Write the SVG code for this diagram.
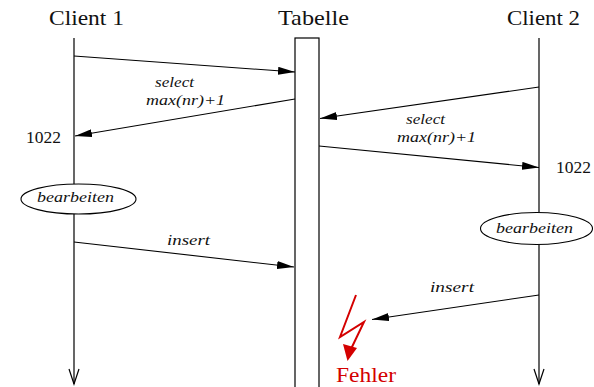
<svg xmlns="http://www.w3.org/2000/svg" width="594" height="387" viewBox="0 0 594 387">
<style>
.t{font-family:"Liberation Serif","DejaVu Serif","Times New Roman",serif;font-size:21px;fill:#111}
.l{font-family:"Liberation Serif","DejaVu Serif","Times New Roman",serif;font-style:italic;font-size:15.5px;fill:#111}
.n{font-family:"Liberation Serif","DejaVu Serif","Times New Roman",serif;font-size:16px;fill:#111}
.ln{stroke:#000;stroke-width:1.2;fill:none}
.msg{stroke:#000;stroke-width:1.1;fill:none;marker-end:url(#ah)}
.red{fill:#d40000}
</style>
<defs>
<marker id="ah" markerWidth="17" markerHeight="8" refX="17" refY="4" orient="auto" markerUnits="userSpaceOnUse">
<path d="M0,0 L17,4 L0,8 Z" fill="#000"/>
</marker>
</defs>
<g id="client1">
<text class="t" x="49" y="25" textLength="75" lengthAdjust="spacingAndGlyphs">Client 1</text>
<line class="ln" x1="74" y1="38" x2="74" y2="184"/>
<line class="ln" x1="74" y1="214" x2="74" y2="384"/>
<path d="M69,369 L74,384 L79,369" class="ln"/>
</g>
<g id="tabelle">
<text class="t" x="278" y="25" textLength="71" lengthAdjust="spacingAndGlyphs">Tabelle</text>
<rect x="295" y="38" width="24" height="360" fill="#fff" stroke="#000" stroke-width="1.2"/>
</g>
<g id="client2">
<text class="t" x="507" y="25" textLength="73" lengthAdjust="spacingAndGlyphs">Client 2</text>
<line class="ln" x1="539" y1="38" x2="539" y2="212"/>
<line class="ln" x1="539" y1="245" x2="539" y2="384"/>
<path d="M534,369 L539,384 L544,369" class="ln"/>
</g>
<g id="bearbeiten1">
<ellipse cx="78.5" cy="199" rx="57.5" ry="15" fill="#fff" stroke="#000" stroke-width="1.1"/>
<text class="l" x="37" y="202" textLength="77" lengthAdjust="spacingAndGlyphs">bearbeiten</text>
</g>
<g id="bearbeiten2">
<ellipse cx="536.5" cy="228.5" rx="56" ry="16" fill="#fff" stroke="#000" stroke-width="1.1"/>
<text class="l" x="496" y="233" textLength="77" lengthAdjust="spacingAndGlyphs">bearbeiten</text>
</g>
<g id="n1022a"><text class="n" x="26" y="142.5" textLength="35" lengthAdjust="spacingAndGlyphs">1022</text></g>
<g id="n1022b"><text class="n" x="556" y="173" textLength="35" lengthAdjust="spacingAndGlyphs">1022</text></g>
<g id="fehler">
<polyline points="356,295 340,337 364,322 351,349" fill="none" stroke="#d40000" stroke-width="2"/>
<path d="M343,344 L347.5,361 L357,348 Z" class="red"/>
<text class="t red" x="336" y="382" textLength="60" lengthAdjust="spacingAndGlyphs" style="font-size:20px;fill:#d40000">Fehler</text>
</g>
<g id="connectors">
<line class="msg" x1="74" y1="56" x2="295" y2="72"/>
<line class="msg" x1="295" y1="99" x2="75" y2="136"/>
<line class="msg" x1="539" y1="87" x2="320" y2="118.5"/>
<line class="msg" x1="319" y1="146" x2="539" y2="167.5"/>
<line class="msg" x1="74" y1="242" x2="294" y2="267"/>
<line class="msg" x1="539" y1="295" x2="372" y2="319.5"/>
<text class="l" x="155" y="87" textLength="39" lengthAdjust="spacingAndGlyphs">select</text>
<text class="l" x="146" y="105" textLength="79" lengthAdjust="spacingAndGlyphs">max(nr)+1</text>
<text class="l" x="406" y="124" textLength="39" lengthAdjust="spacingAndGlyphs">select</text>
<text class="l" x="397" y="142" textLength="79" lengthAdjust="spacingAndGlyphs">max(nr)+1</text>
<text class="l" x="167" y="245" textLength="43" lengthAdjust="spacingAndGlyphs">insert</text>
<text class="l" x="430" y="292" textLength="44" lengthAdjust="spacingAndGlyphs">insert</text>
</g>
</svg>
